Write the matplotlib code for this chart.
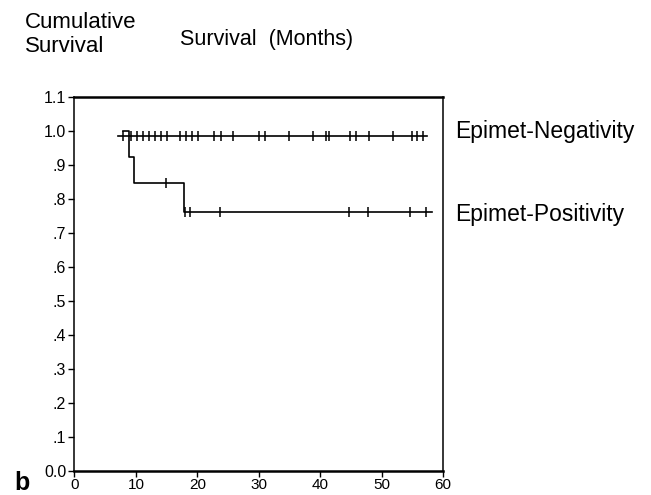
import matplotlib
matplotlib.use('Agg')
import matplotlib.pyplot as plt

plt.rcParams['font.family'] = ['Liberation Sans', 'DejaVu Sans']

# Epimet-negative group: no events, only censored cases
neg_start = 7.1
neg_end = 57.4
neg_level = 0.985
neg_censored = [7.9, 9.2, 10.2, 11.1, 12.1, 13.1, 14.1, 15.0, 17.2, 18.1, 19.1, 20.1,
                22.8, 23.8, 25.8, 30.0, 31.0, 35.0, 38.8, 40.9, 41.5, 44.8, 45.8,
                47.9, 51.8, 54.9, 55.7, 56.7]

# Epimet-positive group: step curve
pos_times = [7.85, 8.8, 9.75, 17.9, 58.2]
pos_surv = [1.0, 0.923, 0.846, 0.762, 0.762]
pos_censored = [14.9, 18.0, 18.8, 23.7, 44.7, 47.8, 54.6, 57.3]

yticks = [0.0, 0.1, 0.2, 0.3, 0.4, 0.5, 0.6, 0.7, 0.8, 0.9, 1.0, 1.1]
ylabels = ['0.0', '.1', '.2', '.3', '.4', '.5', '.6', '.7', '.8', '.9', '1.0', '1.1']
xticks = [0, 10, 20, 30, 40, 50, 60]


def step_value(t):
    v = pos_surv[0]
    for tt, s in zip(pos_times, pos_surv):
        if t >= tt:
            v = s
    return v


fig = plt.figure(figsize=(6.51, 4.95), dpi=100)
ax = fig.add_axes([0.1144, 0.0485, 0.566, 0.7555])

# negative group
ax.plot([neg_start, neg_end], [neg_level, neg_level], color='black', lw=1.2)
ax.plot(neg_censored, [neg_level] * len(neg_censored), linestyle='none',
        marker='|', markersize=7, markeredgewidth=1.1, color='black')

# positive group
ax.step(pos_times, pos_surv, where='post', color='black', lw=1.2)
ax.plot(pos_censored, [step_value(t) for t in pos_censored], linestyle='none',
        marker='|', markersize=7, markeredgewidth=1.1, color='black')

ax.set_xlim(0, 60)
ax.set_ylim(0, 1.1)
ax.set_xticks(xticks)
ax.set_yticks(yticks)
ax.set_yticklabels(ylabels)
ax.tick_params(axis='both', direction='out', length=4, width=1, labelsize=11.5, pad=2)
ax.tick_params(axis='x', labelsize=11, pad=1)

for side in ['top', 'bottom']:
    ax.spines[side].set_linewidth(1.8)
for side in ['left', 'right']:
    ax.spines[side].set_linewidth(1.1)

fig.text(25 / 651, 1 - 22 / 495, 'Cumulative', fontsize=16, va='center', ha='left')
fig.text(25 / 651, 1 - 46 / 495, 'Survival', fontsize=16, va='center', ha='left')
fig.text(180 / 651, 1 - 40 / 495, 'Survival  (Months)', fontsize=15.5, va='center', ha='left')
fig.text(455 / 651, 1 - 132 / 495, 'Epimet-Negativity', fontsize=16.5, va='center', ha='left')
fig.text(455 / 651, 1 - 215 / 495, 'Epimet-Positivity', fontsize=16.5, va='center', ha='left')
fig.text(14 / 651, 1 - 483 / 495, 'b', fontsize=18, fontweight='bold', va='center', ha='left')

fig.savefig('out.png', dpi=100)
